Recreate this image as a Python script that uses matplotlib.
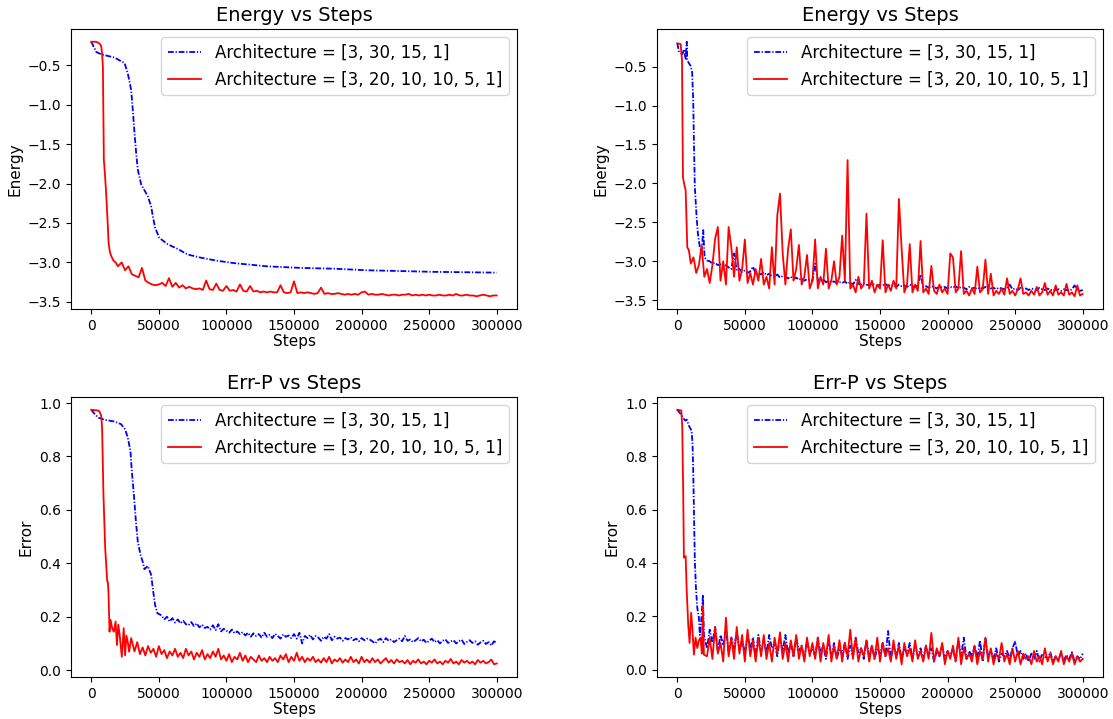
import numpy as np
import matplotlib
matplotlib.use("Agg")
import matplotlib.pyplot as plt

# --- Data (steps, values) ---
label_a = "Architecture = [3, 30, 15, 1]"
label_b = "Architecture = [3, 20, 10, 10, 5, 1]"

# Top-left: Energy, run 1
tl_blue_steps = [0, 3700, 7400, 17000, 24600, 27000, 29500, 30700, 32000, 33200, 34400, 36900,
                 41800, 44300, 45500, 47200, 50400, 56600, 64000, 71300, 81000, 93400, 106000,
                 130000, 155000, 179500, 204000, 229000, 253000, 300000]
tl_blue_vals = [-0.2, -0.33, -0.36, -0.40, -0.47, -0.6, -0.81, -1.06, -1.36, -1.61, -1.82, -2.01,
                -2.16, -2.29, -2.41, -2.56, -2.69, -2.77, -2.83, -2.9, -2.94, -2.98, -3.01,
                -3.05, -3.07, -3.08, -3.1, -3.11, -3.12, -3.13]

tl_red_early_steps = [0, 3000, 5000, 6500, 7400, 8000, 8600, 9300, 10000, 11000, 12000, 12800,
                      13800, 14800, 16500, 18000, 19700]
tl_red_early_vals = [-0.2, -0.2, -0.21, -0.23, -0.26, -0.35, -0.52, -1.7, -1.85, -2.12, -2.45, -2.75,
                     -2.87, -2.92, -2.98, -3.0, -3.05]
tl_red_tail_vals = [  # every 2500 steps from 22500
    -3.0, -3.1, -3.05, -3.15, -3.17, -3.19, -3.07, -3.23,
    -3.26, -3.28, -3.29, -3.28, -3.26, -3.3, -3.2, -3.31,
    -3.26, -3.32, -3.29, -3.33, -3.31, -3.33, -3.34, -3.33,
    -3.35, -3.23, -3.34, -3.35, -3.27, -3.35, -3.36, -3.3,
    -3.36, -3.35, -3.37, -3.28, -3.36, -3.37, -3.3, -3.37,
    -3.36, -3.38, -3.37, -3.38, -3.37, -3.38, -3.38, -3.29,
    -3.38, -3.39, -3.38, -3.24, -3.39, -3.38, -3.39, -3.38,
    -3.39, -3.4, -3.39, -3.32, -3.4, -3.39, -3.4, -3.4,
    -3.39, -3.4, -3.41, -3.4, -3.41, -3.4, -3.41, -3.38,
    -3.37, -3.41, -3.4, -3.41, -3.41, -3.4, -3.41, -3.42,
    -3.41, -3.41, -3.42, -3.41, -3.41, -3.4, -3.42, -3.41,
    -3.42, -3.41, -3.42, -3.41, -3.42, -3.42, -3.41, -3.42,
    -3.42, -3.41, -3.42, -3.4, -3.42, -3.42, -3.41, -3.42,
    -3.42, -3.43, -3.42, -3.41, -3.42, -3.43, -3.42, -3.42]

# Top-right: Energy, run 2
tr_blue_early_steps = [0, 1200, 3700, 5000, 6200, 7000, 7400, 9800, 11000, 11800, 12300, 13000,
                       14300, 15300, 16700, 18000, 19200, 20200]
tr_blue_early_vals = [-0.2, -0.3, -0.34, -0.28, -0.4, -0.18, -0.42, -0.49, -0.57, -0.94, -1.45, -2.05,
                      -2.43, -2.65, -2.82, -2.88, -2.6, -2.95]
tr_blue_tail_vals = [  # every 2000 steps from 22000
    -2.99, -3.0, -3.03, -3.02, -3.05, -3.04, -3.07, -3.05, -3.08, -3.1,
    -2.9, -3.12, -3.1, -3.14, -3.12, -3.15, -3.13, -3.07, -3.16, -3.15,
    -3.17, -3.14, -3.18, -3.16, -3.19, -3.2, -3.17, -3.21, -3.19, -3.2,
    -3.22, -3.2, -3.23, -3.21, -3.24, -3.22, -3.25, -3.23, -3.24, -3.25,
    -3.03, -3.24, -3.26, -3.23, -3.27, -3.25, -3.27, -3.26, -3.28, -3.27,
    -3.28, -3.26, -3.29, -3.27, -3.3, -3.24, -3.29, -3.3, -3.28, -3.3,
    -3.31, -3.29, -3.3, -3.32, -3.3, -3.31, -3.29, -3.32, -3.3, -3.31,
    -3.33, -3.3, -3.32, -3.31, -3.33, -3.3, -3.32, -3.33, -3.31, -3.17,
    -3.33, -3.32, -3.34, -3.32, -3.33, -3.35, -3.32, -3.34, -3.33, -3.35,
    -3.33, -3.34, -3.32, -3.35, -3.33, -3.34, -3.36, -3.33, -3.35, -3.34,
    -3.36, -3.34, -3.35, -3.33, -3.36, -3.35, -3.34, -3.36, -3.34, -3.35,
    -3.36, -3.34, -3.3, -3.36, -3.35, -3.37, -3.34, -3.36, -3.35, -3.37,
    -3.35, -3.36, -3.37, -3.34, -3.36, -3.37, -3.35, -3.37, -3.36, -3.37,
    -3.36, -3.38, -3.36, -3.37, -3.38, -3.36, -3.31, -3.37, -3.38, -3.37]

tr_red_early_steps = [0, 2500, 3500, 4200, 5000, 6200, 7400, 8600]
tr_red_early_vals = [-0.2, -0.21, -0.42, -1.92, -2.0, -2.09, -2.82, -2.86]
tr_red_tail_vals = [  # every 2000 steps from 10000
    -3.03, -2.95, -3.15, -3.05, -2.8, -3.2, -3.1, -3.28, -3.05, -2.71,
    -2.56, -3.25, -3.0, -3.3, -2.56, -2.82, -3.2, -2.82, -3.25, -3.1,
    -2.72, -3.28, -3.15, -3.3, -3.1, -3.25, -2.97, -3.3, -3.2, -3.35,
    -2.82, -3.3, -2.41, -2.13, -2.9, -3.3, -2.84, -2.59, -3.25, -3.1,
    -2.79, -3.3, -3.2, -2.92, -3.35, -3.25, -2.72, -3.35, -3.2, -3.3,
    -2.84, -3.35, -3.25, -3.0, -3.3, -3.2, -2.67, -3.25, -1.7, -3.35,
    -3.3, -3.4, -3.2, -3.35, -3.3, -2.39, -3.35, -3.25, -3.4, -3.3,
    -3.35, -2.73, -3.4, -3.3, -3.38, -3.25, -3.35, -2.2, -2.84, -3.4,
    -3.3, -2.78, -3.4, -3.3, -3.38, -2.74, -3.4, -3.35, -3.42, -3.06,
    -3.38, -3.42, -3.3, -3.4, -3.35, -3.42, -2.9, -2.95, -3.4, -3.35,
    -2.87, -3.42, -3.38, -3.44, -3.35, -3.42, -3.07, -3.4, -3.36, -2.98,
    -3.42, -3.16, -3.44, -3.38, -3.42, -3.35, -3.43, -3.22, -3.42, -3.38,
    -3.44, -3.36, -3.22, -3.42, -3.4, -3.44, -3.38, -3.43, -3.33, -3.44,
    -3.4, -3.28, -3.43, -3.38, -3.44, -3.31, -3.43, -3.4, -3.44, -3.29,
    -3.43, -3.4, -3.45, -3.31, -3.44, -3.42]

# Bottom-left: Err-P, run 1
bl_blue_early_steps = [0, 2500, 5000, 10000, 17000, 22000, 25000, 27000, 29000, 30000, 31500,
                       33000, 34400, 36400, 38000, 39300, 41800, 44300, 45500, 47200, 49000]
bl_blue_early_vals = [0.975, 0.959, 0.946, 0.937, 0.931, 0.921, 0.902, 0.871, 0.82, 0.745, 0.658,
                      0.558, 0.482, 0.432, 0.407, 0.378, 0.39, 0.357, 0.307, 0.244, 0.213]
bl_blue_tail_vals = [  # every 2000 steps from 52000
    0.205, 0.19, 0.2, 0.182, 0.195, 0.178, 0.19, 0.175, 0.185, 0.172,
    0.168, 0.18, 0.165, 0.175, 0.16, 0.17, 0.158, 0.162, 0.152, 0.168,
    0.15, 0.172, 0.145, 0.155, 0.148, 0.14, 0.152, 0.138, 0.145, 0.135,
    0.142, 0.13, 0.14, 0.125, 0.138, 0.128, 0.135, 0.122, 0.14, 0.125,
    0.132, 0.12, 0.136, 0.128, 0.118, 0.134, 0.125, 0.13, 0.12, 0.135,
    0.118, 0.14, 0.1, 0.128, 0.12, 0.132, 0.115, 0.128, 0.122, 0.11,
    0.125, 0.118, 0.135, 0.112, 0.125, 0.118, 0.122, 0.11, 0.12, 0.115,
    0.123, 0.112, 0.118, 0.108, 0.12, 0.112, 0.118, 0.115, 0.108, 0.1,
    0.112, 0.118, 0.105, 0.12, 0.11, 0.115, 0.105, 0.112, 0.118, 0.108,
    0.128, 0.11, 0.115, 0.105, 0.112, 0.12, 0.108, 0.114, 0.102, 0.11,
    0.118, 0.105, 0.112, 0.1, 0.11, 0.115, 0.102, 0.108, 0.112, 0.1,
    0.108, 0.114, 0.098, 0.106, 0.112, 0.102, 0.108, 0.095, 0.104, 0.11,
    0.098, 0.105, 0.092, 0.108, 0.102]

bl_red_early_steps = [0, 5000, 6000, 7400, 8000, 9000, 10300, 11800, 12300, 12800, 13500, 14300,
                      15500, 16700, 18000, 19000, 20000, 21000, 22600, 24000, 25000, 26000,
                      27000, 28000, 29500]
bl_red_early_vals = [0.975, 0.972, 0.969, 0.952, 0.908, 0.658, 0.457, 0.332, 0.33, 0.282, 0.144,
                     0.188, 0.157, 0.144, 0.182, 0.094, 0.17, 0.132, 0.05, 0.157, 0.056, 0.13,
                     0.105, 0.069, 0.12]
bl_red_tail_vals = [  # every 2000 steps from 32000
    0.07, 0.105, 0.06, 0.085, 0.055, 0.09, 0.065, 0.08, 0.05, 0.09,
    0.06, 0.075, 0.045, 0.07, 0.055, 0.08, 0.05, 0.065, 0.045, 0.08,
    0.055, 0.07, 0.04, 0.065, 0.05, 0.075, 0.04, 0.06, 0.045, 0.07,
    0.05, 0.08, 0.04, 0.055, 0.035, 0.06, 0.03, 0.05, 0.04, 0.065,
    0.035, 0.055, 0.03, 0.05, 0.04, 0.03, 0.055, 0.035, 0.045, 0.03,
    0.05, 0.035, 0.045, 0.03, 0.055, 0.04, 0.06, 0.03, 0.05, 0.035,
    0.065, 0.035, 0.05, 0.03, 0.045, 0.035, 0.05, 0.03, 0.04, 0.028,
    0.045, 0.03, 0.05, 0.025, 0.04, 0.032, 0.045, 0.028, 0.04, 0.03,
    0.05, 0.03, 0.04, 0.025, 0.05, 0.03, 0.04, 0.028, 0.045, 0.03,
    0.04, 0.025, 0.035, 0.045, 0.028, 0.038, 0.025, 0.04, 0.03, 0.035,
    0.025, 0.038, 0.022, 0.035, 0.028, 0.04, 0.025, 0.032, 0.022, 0.035,
    0.028, 0.04, 0.025, 0.032, 0.022, 0.035, 0.028, 0.042, 0.025, 0.032,
    0.022, 0.038, 0.028, 0.035, 0.025, 0.032, 0.022, 0.038, 0.028, 0.035,
    0.025, 0.03, 0.04, 0.022, 0.025]

# Bottom-right: Err-P, run 2
br_blue_early_steps = [0, 2500, 5000, 6000, 7000, 8600, 10600, 11300, 11800, 12300, 13000, 13800,
                       14800, 16000, 16700, 17700, 19000, 19700]
br_blue_early_vals = [0.975, 0.959, 0.94, 0.934, 0.938, 0.915, 0.896, 0.846, 0.746, 0.596, 0.407,
                      0.307, 0.232, 0.194, 0.13, 0.18, 0.28, 0.13]
br_blue_tail_vals = [  # every 2000 steps from 22000
    0.08, 0.15, 0.1, 0.16, 0.07, 0.13, 0.09, 0.15, 0.06, 0.12,
    0.08, 0.14, 0.07, 0.11, 0.06, 0.13, 0.08, 0.12, 0.05, 0.13,
    0.07, 0.11, 0.06, 0.13, 0.08, 0.1, 0.05, 0.12, 0.07, 0.13,
    0.06, 0.1, 0.05, 0.12, 0.07, 0.09, 0.04, 0.11, 0.06, 0.08,
    0.05, 0.12, 0.06, 0.09, 0.04, 0.11, 0.05, 0.1, 0.04, 0.08,
    0.06, 0.1, 0.04, 0.09, 0.05, 0.12, 0.06, 0.08, 0.04, 0.11,
    0.05, 0.09, 0.04, 0.08, 0.06, 0.1, 0.05, 0.145, 0.04, 0.09,
    0.05, 0.1, 0.04, 0.08, 0.06, 0.1, 0.04, 0.09, 0.05, 0.08,
    0.04, 0.09, 0.05, 0.08, 0.03, 0.07, 0.05, 0.09, 0.04, 0.07,
    0.05, 0.08, 0.03, 0.11, 0.05, 0.12, 0.04, 0.07, 0.05, 0.09,
    0.04, 0.11, 0.03, 0.12, 0.05, 0.07, 0.04, 0.08, 0.03, 0.06,
    0.05, 0.07, 0.04, 0.08, 0.105, 0.05, 0.07, 0.04, 0.06, 0.03,
    0.06, 0.04, 0.07, 0.03, 0.06, 0.05, 0.04, 0.065, 0.03, 0.05,
    0.04, 0.06, 0.035, 0.055, 0.04, 0.065, 0.03, 0.05, 0.04, 0.06]

br_red_early_steps = [0, 1200, 3000, 3700, 4400, 4900, 6200, 6900, 8100, 9100, 10300, 11300,
                      12300, 13500, 14800, 16000, 17200, 18200, 19000, 19700]
br_red_early_vals = [0.975, 0.974, 0.972, 0.908, 0.658, 0.42, 0.426, 0.307, 0.169, 0.1, 0.213,
                     0.144, 0.056, 0.12, 0.081, 0.11, 0.12, 0.06, 0.24, 0.056]
br_red_tail_vals = [  # every 2000 steps from 22000
    0.05, 0.12, 0.04, 0.16, 0.06, 0.1, 0.03, 0.195, 0.05, 0.12,
    0.04, 0.16, 0.06, 0.13, 0.03, 0.15, 0.05, 0.11, 0.03, 0.12,
    0.05, 0.13, 0.04, 0.1, 0.03, 0.12, 0.06, 0.14, 0.04, 0.1,
    0.03, 0.11, 0.05, 0.13, 0.04, 0.09, 0.03, 0.12, 0.05, 0.1,
    0.04, 0.12, 0.03, 0.1, 0.05, 0.13, 0.03, 0.09, 0.04, 0.11,
    0.03, 0.1, 0.05, 0.15, 0.04, 0.12, 0.03, 0.08, 0.05, 0.11,
    0.03, 0.09, 0.04, 0.12, 0.03, 0.1, 0.05, 0.08, 0.03, 0.11,
    0.04, 0.09, 0.02, 0.1, 0.05, 0.08, 0.03, 0.11, 0.04, 0.07,
    0.03, 0.09, 0.04, 0.138, 0.03, 0.08, 0.05, 0.1, 0.02, 0.07,
    0.04, 0.09, 0.03, 0.12, 0.02, 0.08, 0.04, 0.06, 0.03, 0.09,
    0.02, 0.07, 0.04, 0.12, 0.03, 0.08, 0.02, 0.06, 0.04, 0.1,
    0.03, 0.06, 0.02, 0.08, 0.03, 0.07, 0.02, 0.06, 0.04, 0.05,
    0.02, 0.07, 0.03, 0.05, 0.02, 0.08, 0.03, 0.06, 0.02, 0.05,
    0.03, 0.07, 0.02, 0.05, 0.03, 0.06, 0.02, 0.05, 0.03, 0.04]


def join(early_steps, early_vals, start, every, tail_vals):
    steps = list(early_steps) + [start + i * every for i in range(len(tail_vals))]
    return np.array(steps), np.array(list(early_vals) + list(tail_vals))


panels = [
    # (rect, title, ylabel, blue series, red series)
    ([71 / 1113, 1 - 309 / 719, 446 / 1113, 280 / 719], "Energy vs Steps", "Energy",
     (np.array(tl_blue_steps), np.array(tl_blue_vals)),
     join(tl_red_early_steps, tl_red_early_vals, 22500, 2500, tl_red_tail_vals)),
    ([657 / 1113, 1 - 309 / 719, 446 / 1113, 280 / 719], "Energy vs Steps", "Energy",
     join(tr_blue_early_steps, tr_blue_early_vals, 22000, 2000, tr_blue_tail_vals),
     join(tr_red_early_steps, tr_red_early_vals, 10000, 2000, tr_red_tail_vals)),
    ([71 / 1113, 1 - 677 / 719, 446 / 1113, 280 / 719], "Err-P vs Steps", "Error",
     join(bl_blue_early_steps, bl_blue_early_vals, 52000, 2000, bl_blue_tail_vals),
     join(bl_red_early_steps, bl_red_early_vals, 32000, 2000, bl_red_tail_vals)),
    ([657 / 1113, 1 - 677 / 719, 446 / 1113, 280 / 719], "Err-P vs Steps", "Error",
     join(br_blue_early_steps, br_blue_early_vals, 22000, 2000, br_blue_tail_vals),
     join(br_red_early_steps, br_red_early_vals, 22000, 2000, br_red_tail_vals)),
]

fig = plt.figure(figsize=(11.13, 7.19), dpi=100)

for rect, title, ylabel, (bx, by), (rx, ry) in panels:
    ax = fig.add_axes(rect)
    ax.plot(bx, by, color="blue", linestyle="-.", dashes=(3.2, 1.0, 0.7, 1.0),
            linewidth=1.3, label=label_a)
    ax.plot(rx, ry, color="red", linestyle="-", linewidth=1.3, label=label_b)
    ax.set_title(title, fontsize=14)
    ax.set_xlabel("Steps", fontsize=11, labelpad=1)
    ax.set_ylabel(ylabel, fontsize=11)
    ax.tick_params(labelsize=10)
    ax.set_xticks([0, 50000, 100000, 150000, 200000, 250000, 300000])
    ax.legend(loc="upper right", fontsize=12)

fig.savefig("out.png", dpi=100)
